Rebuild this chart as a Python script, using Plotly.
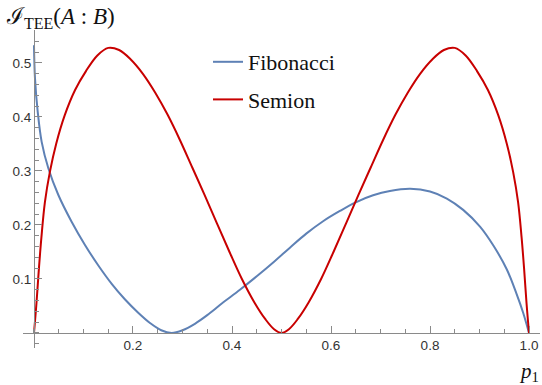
import plotly.graph_objects as go

# Semion curve
semion_x = [0, 0.005, 0.010, 0.015, 0.022, 0.032, 0.045, 0.062, 0.083, 0.105,
            0.128, 0.150, 0.172, 0.195, 0.220, 0.245, 0.270, 0.295, 0.320, 0.345,
            0.370, 0.395, 0.420, 0.445, 0.467, 0.485, 0.500,
            0.515, 0.533, 0.555, 0.580, 0.605, 0.630, 0.655, 0.680, 0.705, 0.730, 0.755,
            0.780, 0.805, 0.828, 0.850, 0.872, 0.895, 0.917, 0.938, 0.955, 0.968,
            0.978, 0.985, 0.990, 0.995, 1.0]
semion_y = [0, 0.055, 0.12, 0.177, 0.242, 0.298, 0.351, 0.403, 0.45, 0.485,
            0.514, 0.528, 0.524, 0.507, 0.480, 0.445, 0.404, 0.357, 0.306, 0.255,
            0.202, 0.150, 0.100, 0.057, 0.026, 0.007, 0,
            0.007, 0.026, 0.057, 0.100, 0.150, 0.202, 0.255, 0.306, 0.357, 0.404, 0.445,
            0.480, 0.507, 0.524, 0.528, 0.514, 0.485, 0.45, 0.403, 0.351, 0.298,
            0.242, 0.177, 0.12, 0.055, 0]

# Fibonacci curve
fib_x = [0, 0.002, 0.0075, 0.0155, 0.029, 0.049, 0.076, 0.103, 0.130, 0.157,
         0.184, 0.210, 0.235, 0.257, 0.278, 0.300, 0.325, 0.350, 0.380, 0.416,
         0.450, 0.485, 0.517, 0.550, 0.584, 0.618, 0.650, 0.685, 0.719, 0.760,
         0.800, 0.834, 0.867, 0.901, 0.928, 0.955, 0.975, 0.988, 1.0]
fib_y = [0.533, 0.472, 0.41, 0.354, 0.305, 0.256, 0.206, 0.163, 0.125, 0.091,
         0.062, 0.038, 0.018, 0.005, 0.0, 0.005, 0.017, 0.033, 0.055, 0.080,
         0.105, 0.132, 0.158, 0.184, 0.207, 0.226, 0.242, 0.255, 0.263, 0.267,
         0.262, 0.249, 0.228, 0.197, 0.162, 0.118, 0.072, 0.038, 0]

x_tickvals = [0.2, 0.4, 0.6, 0.8, 1.0]
x_ticktext = ["0.2", "0.4", "0.6", "0.8", "1.0"]
y_tickvals = [0.1, 0.2, 0.3, 0.4, 0.5]
y_ticktext = ["0.1", "0.2", "0.3", "0.4", "0.5"]

BLUE = "#5E81B5"
RED = "#C80000"
AXIS = "#8a8a8a"

fig = go.Figure()
fig.add_trace(go.Scatter(x=fib_x, y=fib_y, mode="lines", name="Fibonacci",
                         legendgroup="a",
                         line=dict(color=BLUE, width=2, shape="spline", smoothing=1.0)))
fig.add_trace(go.Scatter(x=semion_x, y=semion_y, mode="lines", name="Semion",
                         legendgroup="b",
                         line=dict(color=RED, width=2, shape="spline", smoothing=1.0)))

W, H = 542, 385
L, R, T, B = 23, 2, 30, 37
pw, ph = W - L - R, H - T - B

def px2paper_x(px):
    return (px - L) / pw

def px2paper_y(py):
    return (H - B - py) / ph

tickfont = dict(family="Liberation Sans", size=13.5, color="#333333")
serif = "Liberation Serif"

fig.update_layout(
    width=W, height=H,
    margin=dict(l=L, r=R, t=T, b=B, autoexpand=False),
    paper_bgcolor="white", plot_bgcolor="white",
    showlegend=True,
    legend=dict(x=px2paper_x(208), y=px2paper_y(41), xanchor="left", yanchor="top",
                bgcolor="rgba(0,0,0,0)",
                font=dict(family=serif, size=22, color="#111111"),
                tracegroupgap=6),
    xaxis=dict(range=[-0.0222, 1.0222], showgrid=False, zeroline=False, automargin=False,
               anchor="free", position=px2paper_y(333),
               showline=True, linecolor=AXIS, linewidth=1,
               tickvals=x_tickvals, ticktext=x_ticktext,
               ticks="inside", ticklen=7, tickcolor=AXIS, tickwidth=1,
               minor=dict(dtick=0.05, tick0=0, ticks="inside", ticklen=4, tickcolor=AXIS, tickwidth=1),
               tickfont=tickfont),
    yaxis=dict(range=[-0.0278, 0.5611], showgrid=False, zeroline=False, automargin=False,
               anchor="free", position=px2paper_x(34),
               showline=True, linecolor=AXIS, linewidth=1,
               tickvals=y_tickvals, ticktext=y_ticktext,
               ticks="inside", ticklen=7, tickcolor=AXIS, tickwidth=1,
               minor=dict(dtick=0.02, tick0=0, ticks="inside", ticklen=4, tickcolor=AXIS, tickwidth=1),
               tickfont=tickfont),
)

fig.add_annotation(xref="paper", yref="paper", x=px2paper_x(4), y=px2paper_y(18),
                   xanchor="left", yanchor="middle", showarrow=False,
                   text="ℐ<sub><span style='font-size:16px'>TEE</span></sub>(<i>A</i> : <i>B</i>)",
                   font=dict(family=serif, size=23, color="#111111"))
fig.add_annotation(xref="paper", yref="paper", x=px2paper_x(541), y=px2paper_y(372),
                   xanchor="right", yanchor="middle", showarrow=False,
                   text="<i>p</i><sub>1</sub>",
                   font=dict(family=serif, size=21, color="#111111"))

fig.write_html("out.html", config={"displayModeBar": False},
               post_script="document.body.style.margin='0';document.body.style.padding='0';")
